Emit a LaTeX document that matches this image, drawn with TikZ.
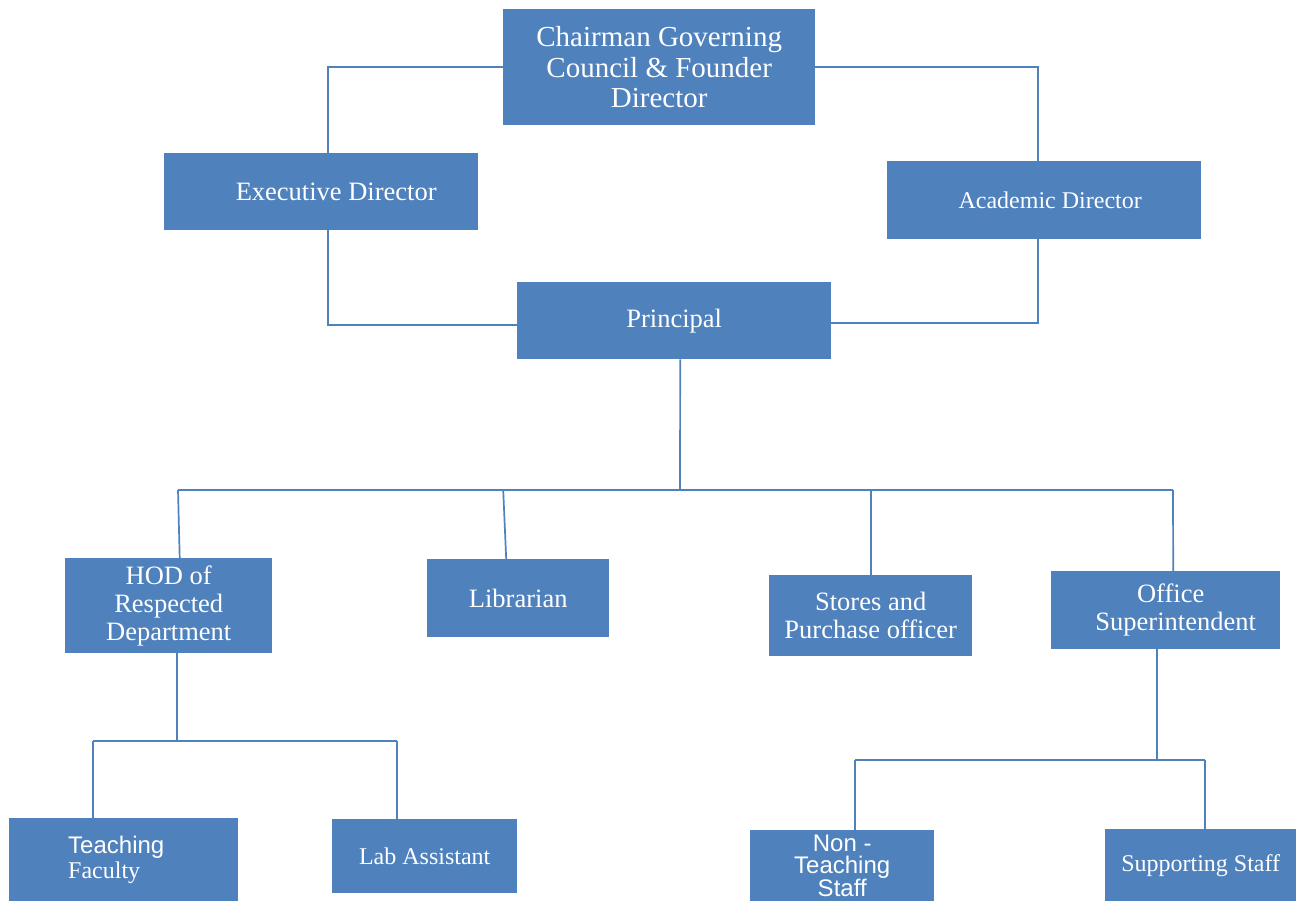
\documentclass[tikz,border=0pt]{standalone}
\usepackage{fontspec}
\setmainfont{Liberation Serif}
\setsansfont{Liberation Sans}
\definecolor{boxblue}{RGB}{79,129,189}
\tikzset{
    orgbox/.style={fill=boxblue, text=white, align=center, inner sep=2pt, anchor=north west},
    link/.style={draw=boxblue, line width=1.7pt},
    bigtext/.style={font=\fontsize{29}{30.5}\selectfont},
    midtext/.style={font=\fontsize{26.5}{27.8}\selectfont},
    smalltext/.style={font=\fontsize{24}{25}\selectfont},
}

\begin{document}
\begin{tikzpicture}[x=1pt, y=-1pt]
    \clip (0,0) rectangle (1296,901);
    % top levels
    \node (chair) [orgbox, bigtext, minimum width=312pt, minimum height=116pt] at (503,9) {Chairman Governing\\Council \& Founder\\Director};
    \node (exec) [orgbox, midtext, minimum width=314pt, minimum height=77pt] at (164,153) {\hspace*{30pt}Executive Director};
    \node (acad) [orgbox, smalltext, minimum width=314pt, minimum height=78pt] at (887,161) {\hspace*{12pt}Academic Director};
    \node (princ) [orgbox, midtext, minimum width=314pt, minimum height=77pt] at (517,282) {Principal};
    % under the principal
    \node (hod) [orgbox, midtext, minimum width=207pt, minimum height=95pt] at (65,558) {HOD of\\Respected\\Department};
    \node (lib) [orgbox, midtext, minimum width=182pt, minimum height=78pt] at (427,559) {Librarian};
    \node (stores) [orgbox, midtext, minimum width=203pt, minimum height=81pt] at (769,575) {Stores and\\Purchase officer};
    \node (office) [orgbox, midtext, minimum width=229pt, minimum height=78pt] at (1051,571) {\hspace*{10pt}Office\\\hspace*{20pt}Superintendent};
    % bottom level
    \node (teach) [orgbox, smalltext, minimum width=229pt, minimum height=84pt, text width=111pt, inner xsep=59pt, align=left] at (9,818) {{\sffamily Teaching}\\Faculty};
    \node (lab) [orgbox, smalltext, minimum width=185pt, minimum height=74pt] at (332,819) {Lab Assistant};
    \node (nonteach) [orgbox, font=\sffamily\fontsize{24}{21.5}\selectfont, minimum width=184pt, minimum height=72pt] at (750,830) {Non -\\Teaching\\Staff};
    \node (support) [orgbox, smalltext, minimum width=191pt, minimum height=73pt] at (1105,829) {Supporting Staff};

    \draw [link] (chair.west) -| ([xshift=7pt]exec.north);
    \draw [link] ([xshift=7pt]exec.south) |- ([yshift=-4.5pt]princ.west);
    \draw [link] (chair.east) -| ([xshift=-6pt]acad.north);
    \draw [link] ([xshift=-6pt]acad.south) |- ([yshift=-2.5pt]princ.east);

    \coordinate (busL) at (178,490);
    \coordinate (busM) at (680,490);
    \coordinate (busR) at (1173,490);
    \draw [link] ([xshift=6pt]princ.south) -- (busM);
    \draw [link] (busL) -- (busR);
    \draw [link] (busL) -- ([xshift=11pt]hod.north);
    \draw [link] ([xshift=-15pt]lib.north |- busL) -- ([xshift=-12pt]lib.north);
    \draw [link] (stores.north |- busL) -- (stores.north);
    \draw [link] (busR) -- ([xshift=7.5pt]office.north);

    \coordinate (hodL) at (93,741);
    \coordinate (hodR) at (397,741);
    \draw [link] ([xshift=8.5pt]hod.south) -- ([xshift=8.5pt]hod.south |- hodL);
    \draw [link] (hodL) -- (hodR);
    \draw [link] (hodL) -- (hodL |- teach.north);
    \draw [link] (hodR) -- (hodR |- lab.north);

    \coordinate (offL) at (855,760);
    \coordinate (offR) at (1205,760);
    \draw [link] ([xshift=-8.5pt]office.south) -- ([xshift=-8.5pt]office.south |- offL);
    \draw [link] (offL) -- (offR);
    \draw [link] (offL) -- (offL |- nonteach.north);
    \draw [link] (offR) -- (offR |- support.north);
\end{tikzpicture}
\end{document}
